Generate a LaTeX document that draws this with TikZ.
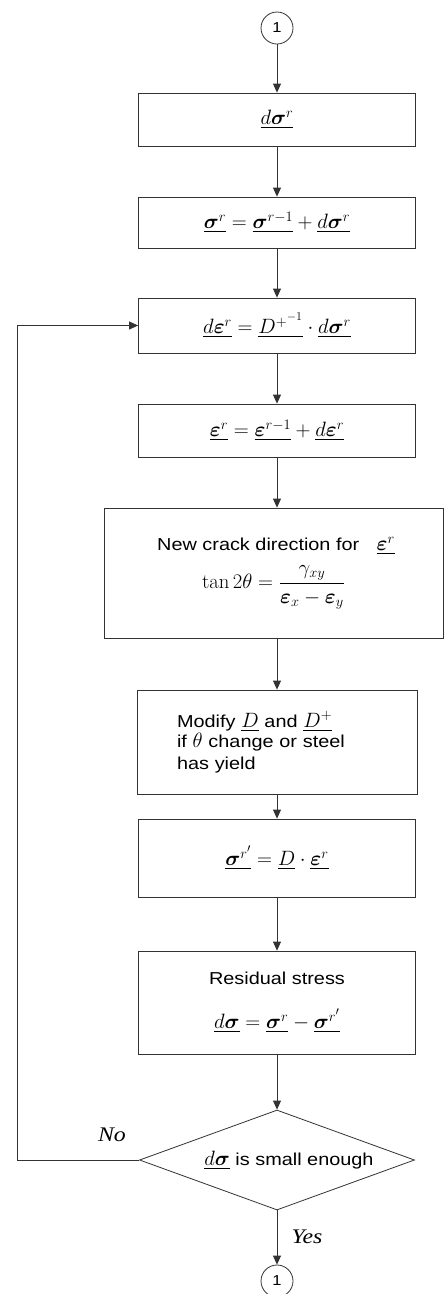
\documentclass[tikz,border=0pt]{standalone}
\usepackage{amsmath,bm}
\usepackage{fontspec}
\newfontfamily\sfx[FakeStretch=1.15]{Liberation Sans}
\newfontfamily\srx[FakeStretch=1.15]{Liberation Serif}
\usetikzlibrary{arrows.meta,shapes.geometric}
\newcommand{\fm}[1]{{\huge$#1$}}
\tikzset{
  ln/.style={draw=black!80, line width=0.8pt},
  arr/.style={ln, -{Triangle[length=9pt,width=8pt]}},
  box/.style={ln, minimum width=277pt, inner sep=0pt, font=\LARGE\sfx, align=center},
  conn/.style={ln, circle, minimum size=32pt, inner sep=0pt, font=\Large\sfx},
  lbl/.style={font=\huge\srx\itshape, inner sep=0pt},
}
\begin{document}
\begin{tikzpicture}[x=1pt,y=-1pt]
\fill[white] (0,0) rectangle (444,1294);
\useasboundingbox (0,0) rectangle (444,1294);

\node[conn] (c1) at (277,28) {1};
\node[box, minimum height=53pt] (b1) at (277,119.5) {\fm{\underline{d\bm{\sigma}^r}}};
\node[box, minimum height=51pt] (b2) at (277,222.5) {\fm{\underline{\bm\sigma^r}=\underline{\bm\sigma^{r-1}}+\underline{d\bm\sigma^r}}};
\node[box, minimum height=55pt] (b3) at (277,325.5) {\fm{\underline{d\bm\varepsilon^r}=\underline{D^{+^{-1}}}\cdot\underline{d\bm\sigma^r}}};
\node[box, minimum height=53pt] (b4) at (277,430.5) {\fm{\underline{\bm\varepsilon^r}=\underline{\bm\varepsilon^{r-1}}+\underline{d\bm\varepsilon^r}}};
\node[box, minimum width=339pt, minimum height=130pt] (b5) at (273.5,573)
  {\hspace*{5pt}New crack direction for\quad \fm{\underline{\bm\varepsilon^r}}\\[10pt]
   \fm{\displaystyle\tan 2\theta=\frac{\gamma_{xy}}{\bm\varepsilon_x-\bm\varepsilon_y}}};
\node[box, minimum width=280pt, minimum height=104pt, text width=200pt, inner xsep=40pt, align=left] (b6) at (277,742)
  {Modify \fm{\underline{D}} and \fm{\underline{D^+}}\\[-2pt] if \fm{\theta} change or steel\\ has yield};
\node[box, minimum height=78pt] (b7) at (277,858) {\fm{\underline{\bm\sigma^{r'}}=\underline{D}\cdot\underline{\bm\varepsilon^r}}};
\node[box, minimum height=103pt] (b8) at (277,1002.5)
  {Residual stress\\[22pt] \fm{\underline{d\bm\sigma}=\underline{\bm\sigma^r}-\underline{\bm\sigma^{r'}}}};
\node[ln, diamond, aspect=2.75, minimum width=275pt, minimum height=100pt, inner sep=0pt, font=\LARGE\sfx] (dia) at (277,1160)
  {\hspace*{24pt}\fm{\underline{d\bm\sigma}} is small enough};
\node[conn] (c2) at (277,1281) {1};

\node[lbl] (no) at (112,1135) {No};
\node[lbl] (yes) at (307,1237) {Yes};
\coordinate (lp) at (17,1160);

\draw[arr] (c1) -- (b1);
\draw[arr] (b1) -- (b2);
\draw[arr] (b2) -- (b3);
\draw[arr] (b3) -- (b4);
\draw[arr] (b4.south) -- (b4.south |- b5.north);
\draw[arr] (b6.north |- b5.south) -- (b6.north);
\draw[arr] (b6) -- (b7);
\draw[arr] (b7) -- (b8);
\draw[arr] (b8) -- (dia);
\draw[arr] (dia) -- (c2);
\draw[arr] (dia.west) -- (lp) |- (b3.west);
\end{tikzpicture}
\end{document}
